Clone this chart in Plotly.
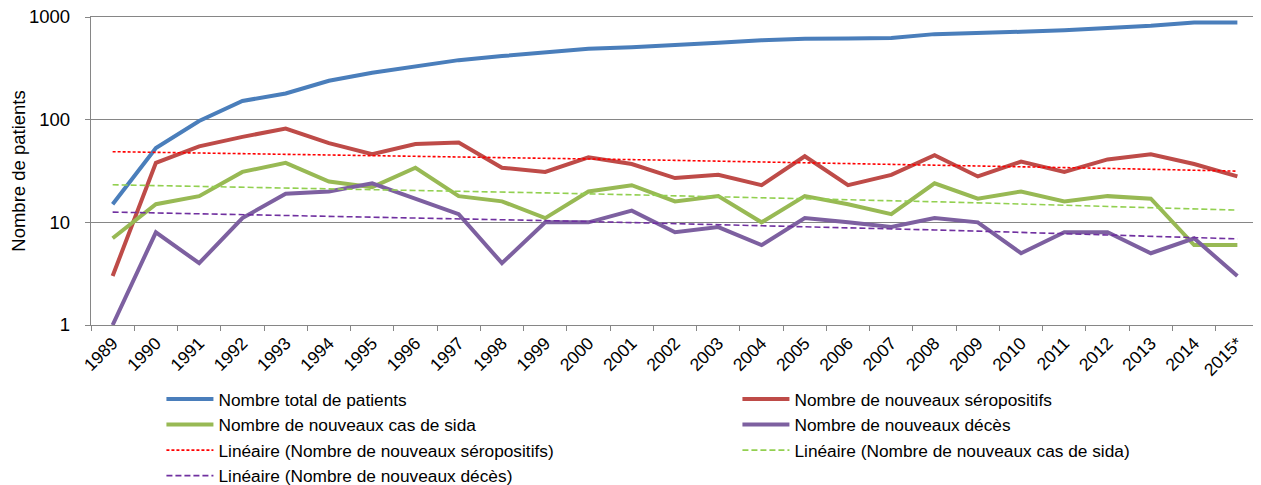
import numpy as np
import plotly.graph_objects as go

years = ["1989", "1990", "1991", "1992", "1993", "1994", "1995", "1996", "1997",
         "1998", "1999", "2000", "2001", "2002", "2003", "2004", "2005", "2006",
         "2007", "2008", "2009", "2010", "2011", "2012", "2013", "2014", "2015*"]

total_patients = [15, 53, 97, 152, 180, 239, 286, 327, 380, 416, 448, 490, 506, 529,
                  561, 592, 613, 617, 623, 681, 692, 718, 745, 780, 820, 885, 885]
seropositifs = [3, 38, 55, 68, 82, 59, 46, 58, 60, 34, 31, 43, 37, 27, 29, 23, 44,
                23, 29, 45, 28, 39, 31, 41, 46, 37, 28]
cas_sida = [7, 15, 18, 31, 38, 25, 22, 34, 18, 16, 11, 20, 23, 16, 18, 10, 18, 15,
            12, 24, 17, 20, 16, 18, 17, 6, 6]
deces = [1, 8, 4, 11, 19, 20, 24, 17, 12, 4, 10, 10, 13, 8, 9, 6, 11, 10, 9, 11,
         10, 5, 8, 8, 5, 7, 3]

names = ["Nombre total de patients", "Nombre de nouveaux séropositifs",
         "Nombre de nouveaux cas de sida", "Nombre de nouveaux décès"]
colors = ["#4A7EBB", "#BE4B48", "#98B954", "#7D60A0"]
trend_colors = {"sero": "#FF0000", "sida": "#92D050", "deces": "#7030A0"}

FONT = "Liberation Sans, Arial, sans-serif"

fig = go.Figure()

for vals, name, col in zip([total_patients, seropositifs, cas_sida, deces], names, colors):
    fig.add_trace(go.Scatter(x=years, y=vals, name=name, mode="lines",
                             line=dict(color=col, width=4, shape="linear")))

def linear_trend(vals):
    xs = np.arange(1, len(vals) + 1)
    a, b = np.polyfit(xs, np.array(vals, dtype=float), 1)
    return a * xs + b

trend_specs = [
    (seropositifs, "Linéaire (Nombre de nouveaux séropositifs)", trend_colors["sero"], "3px,2px"),
    (cas_sida, "Linéaire (Nombre de nouveaux cas de sida)", trend_colors["sida"], "6px,3px"),
    (deces, "Linéaire (Nombre de nouveaux décès)", trend_colors["deces"], "6px,3px"),
]
for vals, name, col, dash in trend_specs:
    fig.add_trace(go.Scatter(x=years, y=linear_trend(vals), name=name, mode="lines",
                             line=dict(color=col, width=1.6, dash=dash)))

axis_col = "#868686"
# page body has an 8px margin: size the figure so it fills the window exactly
fig.update_layout(
    width=1253, height=477, autosize=False,
    margin=dict(l=83, r=2, t=9, b=160, autoexpand=False),
    paper_bgcolor="white", plot_bgcolor="white",
    font=dict(family=FONT, size=18, color="#000000"),
    showlegend=True,
    legend=dict(orientation="h", x=0.0603, y=-0.183, xanchor="left", yanchor="top",
                entrywidth=514, entrywidthmode="pixels", tracegroupgap=0,
                font=dict(family=FONT, size=17.3, color="#000000"),
                itemwidth=47, traceorder="normal", bgcolor="rgba(0,0,0,0)"),
)
fig.update_xaxes(type="category", range=[-0.5, 26.5], tickson="boundaries",
                 ticks="outside", ticklen=5, tickcolor=axis_col, tickwidth=1.3,
                 showline=True, mirror=True, linecolor=axis_col, linewidth=1.3,
                 showgrid=False, tickangle=-45, automargin=False,
                 tickfont=dict(family=FONT, size=17.5, color="#000000"))
fig.update_yaxes(type="log", range=[0, 3], dtick=1, showline=True,
                 linecolor=axis_col, linewidth=1.3, ticks="outside", ticklen=5,
                 tickcolor=axis_col, tickwidth=1.3, showgrid=True,
                 gridcolor=axis_col, gridwidth=1.3, zeroline=False,
                 ticklabelstandoff=11, ticklabeloverflow="allow", automargin=False,
                 tickfont=dict(family=FONT, size=18.5, color="#000000"),
                 title=dict(text="Nombre de patients", standoff=10,
                            font=dict(family=FONT, size=18.5, color="#000000")))

fig.write_html("out.html")
